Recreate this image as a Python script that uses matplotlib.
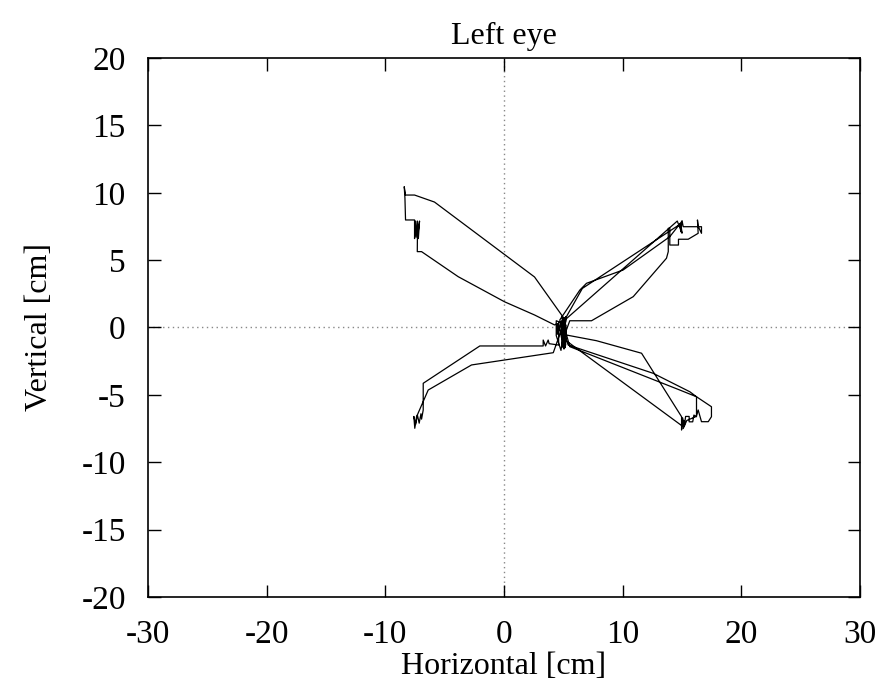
import numpy as np
import matplotlib
matplotlib.use("Agg")
import matplotlib.pyplot as plt

plt.rcParams["font.family"] = ["Liberation Serif", "DejaVu Serif"]
plt.rcParams["font.size"] = 23

# gaze trace of the left eye, in cm (screen coordinates)
center_x = [5.0, 4.9, 4.9, 5.1, 5.1, 5.0, 4.4, 4.4, 4.8, 5.2, 4.95, 5.05, 4.95, 5.15,
            5.0, 5.2, 4.9, 5.1, 5.0, 5.1, 4.95, 5.2, 4.85]
center_y = [0.0, 0.5, -0.8, 0.6, -1.0, 0.3, 0.5, -0.6, -1.7, 0.8, -1.2, 0.7, -1.4, 0.5,
            -1.1, 0.6, -1.3, 0.4, -1.5, 0.7, -1.2, 0.5, 0.93]

# upper-left excursion
ul_x = [2.57, -5.86, -7.54, -8.30, -8.41, -8.35, -8.30, -7.54, -7.54, -7.45, -7.40,
        -7.30, -7.22, -7.12, -7.30, -7.31, -6.95, -3.86, 0.04, 2.57, 4.26]
ul_y = [3.75, 9.31, 9.83, 9.83, 10.45, 9.60, 7.98, 7.98, 6.60, 7.90, 6.70,
        7.90, 6.60, 7.90, 6.60, 5.63, 5.63, 3.77, 1.91, 0.93, 0.19]

# center fixation between excursions
mid1_x = [4.5, 4.5, 5.0, 5.0, 4.9, 5.2, 5.05, 5.15, 4.95, 5.1, 5.0, 5.2, 4.7]
mid1_y = [0.3, -0.5, 0.7, -1.2, 0.8, -0.9, 0.6, -1.5, 0.5, -1.0, 0.6, -1.3, 0.56]

# upper-right excursion (two visits)
ur_x = [6.39, 6.95, 10.04, 13.97, 14.96, 14.90, 15.00, 15.10, 16.64, 16.64, 16.36, 16.30,
        16.36, 15.52, 14.70, 14.70, 13.97, 13.97, 13.84, 13.84, 13.69, 10.89, 7.37, 5.54,
        5.0, 4.9, 5.1, 4.8, 14.60, 14.90, 14.80, 15.00, 14.90, 6.60, 5.0]
ur_y = [2.78, 3.28, 4.27, 6.74, 7.85, 7.10, 7.93, 7.48, 7.48, 6.99, 7.50, 7.98,
        6.99, 6.55, 6.55, 6.12, 6.12, 7.36, 7.36, 5.63, 5.14, 2.29, 0.50, 0.50,
        -0.8, 0.4, -1.1, 0.3, 7.90, 7.20, 7.70, 7.00, 7.70, 2.90, 0.4]

# lower-left excursion
ll_x = [4.9, 5.1, 4.15, -2.74, -6.39, -7.37, -7.52, -7.60, -7.45, -7.30, -7.15, -7.00,
        -6.95, -6.81, -6.81, -2.04, 3.30, 3.30, 3.50, 3.72, 3.80, 4.6]
ll_y = [-0.9, 0.5, -1.87, -2.78, -4.64, -6.62, -7.48, -6.60, -7.20, -6.50, -7.10, -6.40,
        -6.80, -6.12, -4.14, -1.37, -1.37, -0.93, -1.37, -0.93, -1.20, -1.30]

# center fixation
mid2_x = [4.6, 4.6, 5.0, 5.0, 5.2, 5.2, 5.05, 5.15, 4.95, 5.1, 5.0, 4.9]
mid2_y = [-1.3, 0.4, -1.5, 0.6, -1.0, 0.2, -1.6, 0.7, -1.1, 0.5, -1.4, -0.3]

# lower-right excursion (two visits)
lr_x = [5.27, 7.79, 11.59, 14.96, 14.96, 15.05, 15.20, 15.30, 15.60, 15.60, 15.90, 16.00,
        16.22, 16.22, 14.81, 5.54, 5.0, 5.1, 4.9, 5.41, 12.57, 15.66, 16.22, 17.48,
        17.48, 17.21, 16.64, 16.36, 16.20, 15.40, 15.10, 15.20, 15.00, 5.27, 5.0]
lr_y = [-0.56, -0.98, -1.91, -6.62, -7.61, -6.70, -7.30, -6.60, -6.60, -7.00, -7.00, -6.50,
        -6.62, -5.14, -4.64, -1.42, 0.3, -1.2, -0.2, -1.30, -3.40, -4.77, -5.14, -5.88,
        -6.62, -6.99, -6.99, -6.12, -6.60, -6.90, -7.50, -6.90, -7.30, -1.00, -0.4]

trace_x = center_x + ul_x + mid1_x + ur_x + ll_x + mid2_x + lr_x
trace_y = center_y + ul_y + mid1_y + ur_y + ll_y + mid2_y + lr_y

xticks = [-30, -20, -10, 0, 10, 20, 30]
yticks = [-20, -15, -10, -5, 0, 5, 10, 15, 20]

fig = plt.figure(figsize=(8.88, 6.84), dpi=100)
ax = fig.add_axes([0.1667, 0.1272, 0.8018, 0.7880])

# zero axes, dotted like gnuplot's zeroaxis
ax.axhline(0, color="#888888", lw=1.0, ls=(0, (1, 2.5)), zorder=1)
ax.axvline(0, color="#888888", lw=1.0, ls=(0, (1, 2.5)), zorder=1)

ax.plot(trace_x, trace_y, color="black", lw=0.9, zorder=2)

ax.set_xlim(-30, 30)
ax.set_ylim(-20, 20)
ax.set_xticks(xticks)
ax.set_yticks(yticks)
ax.set_xticklabels([str(t) for t in xticks], fontsize=24)
ax.set_yticklabels([str(t) for t in yticks], fontsize=24)
ax.tick_params(direction="in", top=True, right=True, length=9, width=1)
ax.tick_params(axis="x", pad=16)
ax.tick_params(axis="y", pad=16)
for sp in ax.spines.values():
    sp.set_linewidth(1.2)

ax.set_title("Left eye", fontsize=23, pad=10)
ax.set_xlabel("Horizontal [cm]", labelpad=2)
ax.set_ylabel("Vertical [cm]", labelpad=20)

fig.savefig("out.png", dpi=100)
